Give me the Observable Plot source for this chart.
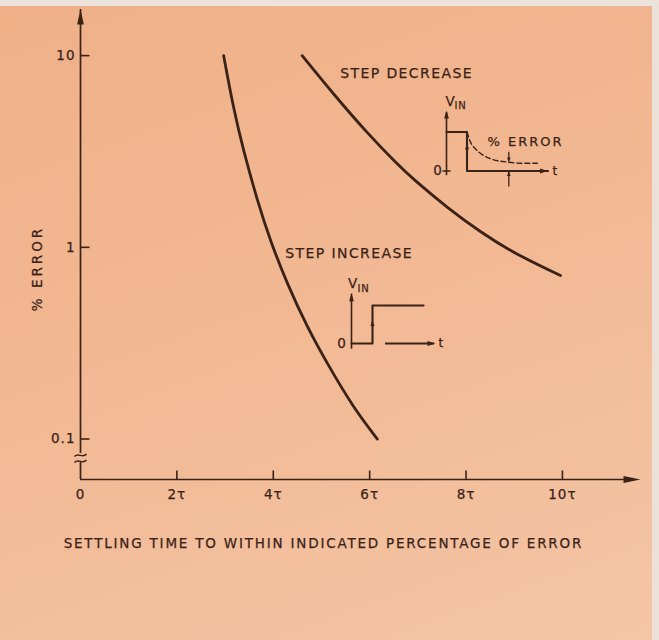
<!DOCTYPE html>
<html><head><meta charset="utf-8">
<script src="https://cdn.jsdelivr.net/npm/d3@7"></script>
<script src="https://cdn.jsdelivr.net/npm/@observablehq/plot@0.6"></script>
<style>
html,body{margin:0;padding:0;}
body{width:659px;height:640px;overflow:hidden;
 background:
  linear-gradient(to bottom,#ebe3dc 0,#ebe3dc 6px,transparent 6px),
  linear-gradient(to left,#ebe1d8 0,#ebe1d8 7px,transparent 7px),
  linear-gradient(160deg,#efb088 0%,#f2b994 50%,#f4c5a6 100%);}
#wrap{position:relative;width:659px;height:640px;}
#wrap svg{position:absolute;}
</style></head><body><div id="wrap"></div>
<script>
// ---------------- data ----------------
const stepIncreaseTau = [2.97, 3.17, 3.38, 3.67, 3.94, 4.29, 4.71, 5.12, 5.66, 6.16];
const stepIncreaseErr = [10, 5.36, 3.20, 1.75, 1.08, 0.643, 0.381, 0.2475, 0.146, 0.1];
const stepDecreaseTau = [4.6, 5.25, 5.95, 6.58, 6.91, 7.61, 8.30, 8.98, 9.96];
const stepDecreaseErr = [10, 6.29, 3.94, 2.70, 2.26, 1.61, 1.20, 0.935, 0.713];

const xTickValues = [0, 2, 4, 6, 8, 10];
const xTickLabels = ["0", "2τ", "4τ", "6τ", "8τ", "10τ"];
const yTickValues = [10, 1, 0.1];
const yTickLabels = ["10", "1", "0.1"];

const curveLabels = ["STEP DECREASE", "STEP INCREASE"];
const curveLabelTau = [5.39, 4.25];
const curveLabelErr = [8.1, 0.93];

const yTitle = "% ERROR";
const xTitle = "SETTLING TIME TO WITHIN INDICATED PERCENTAGE OF ERROR";

// inset sketches (abstract units: t in step widths, v in step heights)
const incTraceT = [0, 1, 1, 3.43];
const incTraceV = [0, 0, 1, 1];
const decTraceT = [0, 1, 1, 4.95];
const decTraceV = [1, 1, 0, 0];
const decErrT = [1.0, 1.17, 1.41, 1.74, 2.23, 2.96, 3.61, 4.43];
const decErrV = [1.0, 0.74, 0.57, 0.42, 0.30, 0.23, 0.20, 0.20];

// ---------------- scale settings ----------------
const xMax = 11.62, yMin = 0.0615, yMax = 17.4, breakLo = 0.0754, breakHi = 0.0840, breakMid = 0.0796;
const ink = "#3a2217";
const font = "DejaVu Sans";
const txt = {fill: ink, stroke: ink, strokeWidth: 0.25};

// symbols
const sym = (f) => ({draw: f});
const arrowUp = (L, w) => sym(c => {c.moveTo(0,0); c.lineTo(-w,L); c.lineTo(w,L); c.closePath();});
const arrowDown = (L, w) => sym(c => {c.moveTo(0,0); c.lineTo(-w,-L); c.lineTo(w,-L); c.closePath();});
const arrowRight = (L, w) => sym(c => {c.moveTo(0,0); c.lineTo(-L,-w); c.lineTo(-L,w); c.closePath();});
const tickUp = sym(c => {c.moveTo(0,0); c.lineTo(0,-9);});
const tickRight = sym(c => {c.moveTo(0,0); c.lineTo(9,0);});
const tickH = sym(c => {c.moveTo(-4,0); c.lineTo(4,0);});
const breakSym = sym(c => {
  c.moveTo(-6,-1.5); c.bezierCurveTo(-2,-6, 2,1, 6,-4);
  c.moveTo(-6,4.5); c.bezierCurveTo(-2,0, 2,7, 6,2);
});

const inc = stepIncreaseTau.map((t, i) => ({t, e: stepIncreaseErr[i]}));
const dec = stepDecreaseTau.map((t, i) => ({t, e: stepDecreaseErr[i]}));
const xTicks = xTickValues.map((v, i) => ({v, label: xTickLabels[i]}));
const yTicks = yTickValues.map((v, i) => ({v, label: yTickLabels[i]}));
const lbls = curveLabels.map((s, i) => ({s, t: curveLabelTau[i], e: curveLabelErr[i]}));

const main = Plot.plot({
  width: 659, height: 640,
  marginLeft: 80, marginRight: 19, marginTop: 9, marginBottom: 161,
  x: {domain: [0, xMax], axis: null},
  y: {type: "log", domain: [yMin, yMax], axis: null},
  style: {background: "transparent", color: ink, fontFamily: font, overflow: "visible"},
  marks: [
    // axes
    Plot.ruleY([yMin], {x1: 0, x2: xMax - 0.1, stroke: ink, strokeWidth: 1.7}),
    Plot.dot([xMax], {x: d => d, y: yMin, symbol: arrowRight(17, 3.6), fill: ink, stroke: "none"}),
    Plot.ruleX([0], {y1: yMin, y2: breakLo, stroke: ink, strokeWidth: 1.7}),
    Plot.ruleX([0], {y1: breakHi, y2: yMax, stroke: ink, strokeWidth: 1.7}),
    Plot.dot([yMax], {x: 0, y: d => d, symbol: arrowUp(15, 3.4), fill: ink, stroke: "none"}),
    Plot.dot([breakMid], {x: 0, y: d => d, symbol: breakSym, fill: "none", stroke: ink, strokeWidth: 1.4}),
    Plot.dot(xTicks.filter(d => d.v > 0), {x: "v", y: yMin, symbol: tickUp, fill: "none", stroke: ink, strokeWidth: 1.6}),
    Plot.dot(yTicks, {x: 0, y: "v", symbol: tickRight, fill: "none", stroke: ink, strokeWidth: 1.6}),
    Plot.text(xTicks, {x: "v", y: yMin, text: "label", dy: 15, fontSize: 13.5, ...txt}),
    Plot.text(yTicks, {x: 0, y: "v", text: "label", dx: -5, textAnchor: "end", fontSize: 13.5, ...txt}),
    // curves
    Plot.line(inc, {x: "t", y: "e", curve: "basis", stroke: ink, strokeWidth: 2.8}),
    Plot.line(dec, {x: "t", y: "e", curve: "basis", stroke: ink, strokeWidth: 2.8}),
    Plot.text(lbls, {x: "t", y: "e", text: "s", textAnchor: "start", fontSize: 14, ...txt}),
    // titles
    Plot.text([yTitle], {frameAnchor: "left", textAnchor: "middle", lineAnchor: "middle", dx: -43, dy: 24, rotate: -90, fontSize: 13.5, ...txt}),
    Plot.text([xTitle], {x: 5.04, frameAnchor: "bottom", lineAnchor: "middle", dy: 64, fontSize: 13.5, ...txt})
  ]
});
main.style.left = "0px"; main.style.top = "0px";
const T = d3.select(main).selectAll("text");
T.style("letter-spacing", "1px");
T.filter(function() { return this.textContent === xTitle; }).style("letter-spacing", "1.8px");
T.filter(function() { return curveLabels.includes(this.textContent); }).style("letter-spacing", "1.4px");
T.filter(function() { return this.textContent === yTitle; }).style("letter-spacing", "3px");
document.getElementById("wrap").appendChild(main);

function insetPlot(box, marks) {
  const tLo = -(box.x0 - box.left) / box.tPx;
  const tHi = (box.left + box.width - box.x0) / box.tPx;
  const vLo = -(box.top + box.height - box.y0) / box.vPx;
  const vHi = (box.y0 - box.top) / box.vPx;
  const svg = Plot.plot({
    width: box.width, height: box.height, margin: 0,
    x: {domain: [tLo, tHi], axis: null},
    y: {domain: [vLo, vHi], axis: null},
    style: {background: "transparent", color: ink, fontFamily: font, overflow: "visible"},
    marks
  });
  svg.style.left = box.left + "px"; svg.style.top = box.top + "px";
  d3.select(svg).selectAll("text").style("letter-spacing", "0.8px");
  d3.select(svg).selectAll("text").filter(function() { return this.textContent === yTitle; }).style("letter-spacing", "2px");
  return svg;
}

const incTrace = incTraceT.map((t, i) => ({t, v: incTraceV[i]}));
const decTrace = decTraceT.map((t, i) => ({t, v: decTraceV[i]}));
const decErr = decErrT.map((t, i) => ({t, v: decErrV[i]}));

const insetA = insetPlot({left: 328, top: 266, width: 125, height: 92, x0: 351, y0: 343, tPx: 21, vPx: 38}, [
  Plot.ruleX([0], {y1: -0.15, y2: 1.3, stroke: ink, strokeWidth: 1.6}),
  Plot.dot([0], {x: 0, y: 1.32, symbol: arrowUp(8, 2.4), fill: ink, stroke: "none"}),
  Plot.line(incTrace, {x: "t", y: "v", stroke: ink, strokeWidth: 2.1}),
  Plot.ruleY([0], {x1: 1.62, x2: 3.95, stroke: ink, strokeWidth: 1.8}),
  Plot.dot([0], {x: 4.0, y: 0, symbol: arrowRight(8, 2.4), fill: ink, stroke: "none"}),
  Plot.dot([0], {x: 1, y: 0.62, symbol: arrowUp(6, 2), fill: ink, stroke: "none"}),
  Plot.text(["0"], {x: -0.45, y: 0, fontSize: 13.5, ...txt}),
  Plot.text(["t"], {x: 4.27, y: 0, fontSize: 12, ...txt}),
  Plot.text(["V"], {x: 0.07, y: 1.57, fontSize: 13.5, ...txt}),
  Plot.text(["IN"], {x: 0.57, y: 1.45, fontSize: 10, ...txt})
]);
document.getElementById("wrap").appendChild(insetA);

const insetB = insetPlot({left: 424, top: 88, width: 160, height: 108, x0: 446, y0: 170.5, tPx: 20.5, vPx: 39}, [
  Plot.ruleX([0], {y1: -0.12, y2: 1.5, stroke: ink, strokeWidth: 1.6}),
  Plot.dot([0], {x: 0, y: 1.55, symbol: arrowUp(8, 2.4), fill: ink, stroke: "none"}),
  Plot.dot([0], {x: 0, y: 0, symbol: tickH, fill: "none", stroke: ink, strokeWidth: 1.5}),
  Plot.line(decTrace, {x: "t", y: "v", stroke: ink, strokeWidth: 2.1}),
  Plot.dot([0], {x: 4.95, y: 0, symbol: arrowRight(8, 2.4), fill: ink, stroke: "none"}),
  Plot.dot([0], {x: 1, y: 0.45, symbol: arrowDown(6, 2), fill: ink, stroke: "none"}),
  Plot.line(decErr, {x: "t", y: "v", curve: "monotone-x", stroke: ink, strokeWidth: 1.4, strokeDasharray: "5,3"}),
  Plot.ruleX([3.04], {y1: 0.48, y2: 0.26, stroke: ink, strokeWidth: 1.3}),
  Plot.dot([0], {x: 3.04, y: 0.22, symbol: arrowDown(5, 1.8), fill: ink, stroke: "none"}),
  Plot.ruleX([3.04], {y1: -0.41, y2: -0.04, stroke: ink, strokeWidth: 1.3}),
  Plot.dot([0], {x: 3.04, y: 0, symbol: arrowUp(5, 1.8), fill: ink, stroke: "none"}),
  Plot.text(["0"], {x: -0.42, y: 0, fontSize: 13.5, ...txt}),
  Plot.text(["t"], {x: 5.3, y: 0, fontSize: 12, ...txt}),
  Plot.text(["V"], {x: 0.2, y: 1.77, fontSize: 13.5, ...txt}),
  Plot.text(["IN"], {x: 0.68, y: 1.66, fontSize: 10, ...txt}),
  Plot.text([yTitle], {x: 2.0, y: 0.76, textAnchor: "start", fontSize: 13, ...txt})
]);
document.getElementById("wrap").appendChild(insetB);
</script></body></html>
